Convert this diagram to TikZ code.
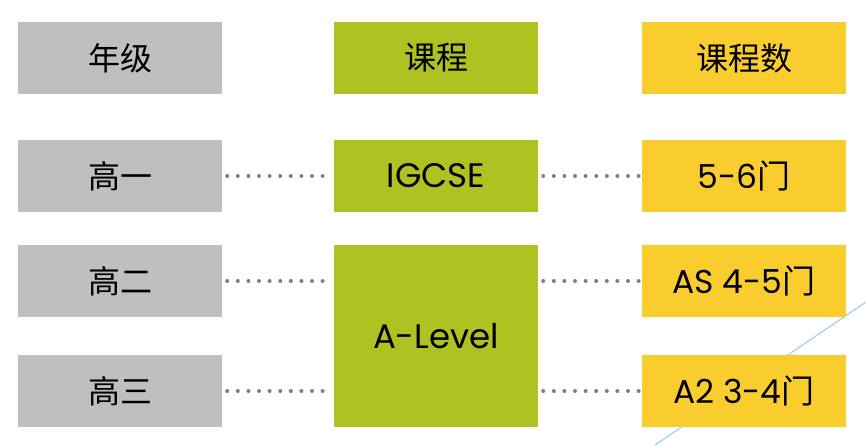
\documentclass[tikz,border=0pt]{standalone}
\usepackage{fontspec}
\setmainfont{Poppins}
\newfontfamily\cjk{Noto Sans CJK SC}
\usetikzlibrary{positioning,calc}
\definecolor{boxgray}{HTML}{BFBFBF}
\definecolor{boxgreen}{HTML}{AEC321}
\definecolor{boxyellow}{HTML}{FACD2E}
\definecolor{dotgray}{HTML}{7F7F7F}
\definecolor{lineblue}{HTML}{9CD3EB}
\tikzset{
  cell/.style={minimum width=204pt, minimum height=72pt, inner sep=0pt, font=\fontsize{32}{34}\selectfont},
  gradebox/.style={cell, fill=boxgray},
  coursebox/.style={cell, fill=boxgreen},
  countbox/.style={cell, fill=boxyellow},
  dotline/.style={dotgray, line width=4pt, line cap=round, dash pattern=on 0pt off 10.6pt}
}

\begin{document}
\begin{tikzpicture}[x=1pt, y=1pt]
  \useasboundingbox (0,0) rectangle (866,445);
  % decoration line behind the boxes
  \draw[lineblue, line width=1.2pt] (655,0) -- (866,143);

  % header row
  \node[gradebox]  (grade)  at (120,387) {\cjk 年级};
  \node[coursebox] (course) at (436,387) {\cjk 课程};
  \node[countbox]  (count)  at (744,387) {\cjk 课程数};

  % grades
  \node[gradebox] (g1) at (120,269) {\cjk 高一};
  \node[gradebox] (g2) at (120,164) {\cjk 高二};
  \node[gradebox] (g3) at (120,54)  {\cjk 高三};

  % courses
  \node[coursebox, font=\fontsize{34}{36}\selectfont] (igcse) at (436,269) {IGCSE};
  \node[coursebox, font=\fontsize{34}{36}\selectfont, minimum height=182pt] (alevel) at (436,109) {A-Level};

  % numbers of courses
  \node[countbox, font=\fontsize{33}{35}\selectfont] (n1) at (744,269) {5-6{\cjk 门}};
  \node[countbox, font=\fontsize{33}{35}\selectfont] (n2) at (744,164) {AS 4-5{\cjk 门}};
  \node[countbox, font=\fontsize{33}{35}\selectfont] (n3) at (744,54)  {A2 3-4{\cjk 门}};

  % dotted connectors
  \draw[dotline] ([xshift=5pt]g1.east) -- ([xshift=-2pt]igcse.west);
  \draw[dotline] ([xshift=5pt]g2.east) -- ([xshift=-2pt]g2.east -| alevel.west);
  \draw[dotline] ([xshift=5pt]g3.east) -- ([xshift=-2pt]g3.east -| alevel.west);
  \draw[dotline] ([xshift=5pt]igcse.east) -- ([xshift=-2pt]n1.west);
  \draw[dotline] ([xshift=5pt]n2.west -| alevel.east) -- ([xshift=-2pt]n2.west);
  \draw[dotline] ([xshift=5pt]n3.west -| alevel.east) -- ([xshift=-2pt]n3.west);
\end{tikzpicture}
\end{document}
